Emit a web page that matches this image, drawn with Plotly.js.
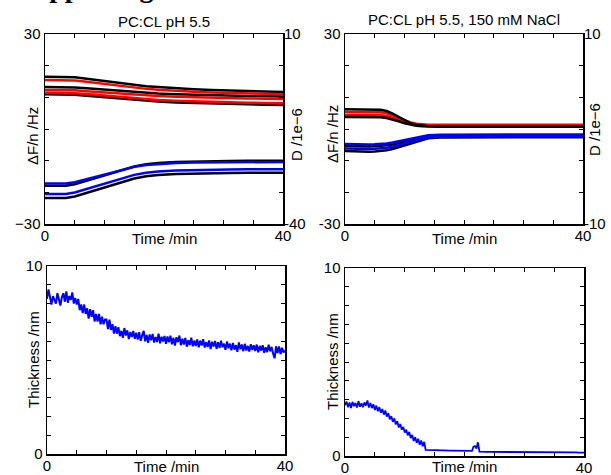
<!DOCTYPE html>
<html><head><meta charset="utf-8">
<script src="https://cdn.plot.ly/plotly-3.0.1.min.js"></script>
<style>html,body{margin:0;padding:0;background:#fff}#chart{width:611px;height:475px}</style>
</head><body><div id="chart"></div>
<script>
// ---------- Top-left panel: PC:CL pH 5.5 ----------
const timeTL = [0, 2, 3.5, 5, 7, 9, 11, 13, 15, 17, 19, 22, 25, 28, 31, 34, 37, 40];
// frequency shifts, Hz (left axis)
const freqFitA_TL  = [-17.2,-17.2,-17.2,-16.8,-15.84,-14.82,-13.8,-12.85,-11.96,-11.35,-11.01,-10.74,-10.6,-10.54,-10.47,-10.43,-10.4,-10.4];
const freqDataA_TL = [-17.9,-17.9,-17.9,-17.43,-16.32,-15.14,-13.95,-12.84,-11.82,-11.11,-10.71,-10.4,-10.24,-10.16,-10.08,-10.04,-10.0,-10.0];
const freqFitB_TL  = [-20.5,-20.5,-20.5,-20.03,-18.94,-17.77,-16.6,-15.51,-14.49,-13.79,-13.4,-13.09,-12.93,-12.86,-12.78,-12.74,-12.7,-12.7];
const freqDataB_TL = [-21.8,-21.8,-21.8,-21.32,-20.2,-19.0,-17.8,-16.68,-15.64,-14.92,-14.52,-14.2,-14.04,-13.96,-13.88,-13.84,-13.8,-13.8];
// dissipation, 1e-6 (right axis)
const dissDataA_TL = [-1.24,-1.24,-1.24,-1.40,-1.76,-2.16,-2.57,-2.97,-3.37,-3.73,-3.97,-4.30,-4.54,-4.74,-4.9,-5.02,-5.14,-5.26];
const dissFitA_TL  = [-2.1,-2.1,-2.1,-2.25,-2.59,-2.97,-3.34,-3.72,-4.1,-4.44,-4.66,-4.97,-5.19,-5.38,-5.53,-5.64,-5.76,-5.87];
const dissDataB_TL = [-3.95,-3.95,-3.95,-4.05,-4.28,-4.53,-4.78,-5.03,-5.28,-5.5,-5.65,-5.85,-6.0,-6.13,-6.23,-6.3,-6.38,-6.45];
const dissFitB_TL  = [-4.74,-4.74,-4.74,-4.83,-5.05,-5.28,-5.52,-5.75,-5.99,-6.2,-6.34,-6.53,-6.68,-6.79,-6.89,-6.96,-7.03,-7.1];
const dissFitC_TL  = [-5.45,-5.45,-5.45,-5.56,-5.81,-6.09,-6.37,-6.65,-6.93,-7.18,-7.35,-7.57,-7.74,-7.88,-7.99,-8.07,-8.16,-8.24];
const dissDataC_TL = [-5.87,-5.87,-5.87,-5.98,-6.24,-6.52,-6.8,-7.08,-7.36,-7.61,-7.78,-8.01,-8.17,-8.31,-8.43,-8.51,-8.6,-8.68];

// ---------- Top-right panel: PC:CL pH 5.5, 150 mM NaCl ----------
const timeTR = [0, 2, 4, 5, 6, 7, 8, 9, 10, 11, 12, 13, 14, 16, 20, 25, 30, 35, 40];
const freqFitA_TR  = [-4.74,-4.89,-4.89,-4.83,-4.74,-4.56,-4.29,-3.9,-3.48,-3.03,-2.58,-2.19,-1.95,-1.8,-1.74,-1.74,-1.74,-1.74,-1.74];
const freqDataA_TR = [-5.37,-5.54,-5.54,-5.47,-5.37,-5.17,-4.87,-4.44,-3.98,-3.48,-2.98,-2.55,-2.28,-2.12,-2.05,-2.05,-2.05,-2.05,-2.05];
const freqFitB_TR  = [-6.16,-6.35,-6.35,-6.27,-6.16,-5.93,-5.59,-5.1,-4.57,-4.0,-3.43,-2.94,-2.64,-2.45,-2.37,-2.37,-2.37,-2.37,-2.37];
const freqDataB_TR = [-6.95,-7.17,-7.17,-7.08,-6.95,-6.69,-6.3,-5.73,-5.12,-4.47,-3.82,-3.25,-2.9,-2.69,-2.6,-2.6,-2.6,-2.6,-2.6];
const dissDataA_TR = [2.07,2.07,2.07,2.07,2.03,1.89,1.63,1.27,0.92,0.62,0.44,0.35,0.3,0.3,0.3,0.3,0.3,0.3,0.3];
const dissFitA_TR  = [1.79,1.79,1.79,1.79,1.76,1.66,1.46,1.19,0.92,0.69,0.56,0.49,0.45,0.45,0.45,0.45,0.45,0.45,0.45];
const dissFitB_TR  = [1.47,1.47,1.47,1.47,1.45,1.36,1.2,0.98,0.76,0.58,0.47,0.41,0.38,0.38,0.38,0.38,0.38,0.38,0.38];
const dissDataB_TR = [1.26,1.26,1.26,1.26,1.24,1.16,1.01,0.81,0.6,0.43,0.33,0.28,0.25,0.25,0.25,0.25,0.25,0.25,0.25];

// ---------- Bottom panels: thickness (nm), sampled every 0.25 min from 0 to 40 ----------
const thicknessStart = 0;
const thicknessStep = 0.25;
const thicknessLeft = [
 8.25,8.75,8.35,7.95,8.40,8.15,8.00,8.55,8.25,7.90,8.35,8.55,8.10,8.65,8.05,8.40,8.20,8.60,8.00,8.30,
 7.95,8.25,7.65,7.95,7.50,7.95,7.45,7.75,7.20,7.70,7.30,7.65,7.05,7.45,7.05,7.45,6.90,7.30,6.90,7.15,
 7.15,6.65,7.15,6.60,6.90,6.40,6.80,6.40,6.75,6.27,6.55,6.18,6.70,6.30,6.58,6.11,6.49,6.22,6.55,6.13,
 6.45,6.09,6.48,6.02,6.31,6.55,5.99,6.33,5.92,6.36,6.05,6.39,5.93,6.22,5.96,6.40,5.89,6.24,5.98,6.28,
 5.86,6.25,5.95,6.29,5.83,6.18,5.77,6.21,5.95,6.30,5.79,6.13,5.82,6.17,5.71,6.05,5.80,6.19,5.73,6.03,
 5.75,6.09,5.68,6.03,5.77,6.11,5.66,5.95,5.69,6.04,5.58,5.97,5.72,6.01,5.60,5.95,5.64,6.03,5.68,5.87,
 5.54,5.98,5.63,5.87,5.51,5.91,5.55,5.79,5.44,5.93,5.58,5.82,5.47,5.86,5.51,5.75,5.45,5.84,5.54,5.78,
 5.48,5.82,5.41,5.75,5.50,5.79,5.38,5.68,5.42,5.81,5.46,5.70,5.34,5.09,5.73,5.37,5.72,5.31,5.65,5.40,
 5.50];
const thicknessRight = [
 2.70,2.90,2.60,2.85,2.55,2.88,2.65,2.82,2.58,2.92,2.62,2.80,2.60,2.85,2.68,2.95,2.58,2.82,2.55,2.75,
 2.45,2.68,2.38,2.60,2.30,2.50,2.20,2.42,2.10,2.28,1.95,2.12,1.82,2.00,1.68,1.85,1.52,1.70,1.40,1.55,
 1.25,1.40,1.10,1.28,0.95,1.12,0.80,1.00,0.70,0.92,0.60,0.82,0.52,0.75,
 0.33,0.32,0.32,0.32,0.31,0.31,0.31,0.31,0.30,0.30,0.30,0.30,0.30,0.29,0.29,0.29,0.29,0.29,0.29,0.28,
 0.28,0.28,0.28,0.28,0.28,0.28,0.27,0.27,0.27,0.27,0.27,0.27,
 0.50,0.53,0.40,0.73,
 0.23,0.22,0.22,0.22,0.22,0.22,0.22,0.22,0.22,0.22,0.22,
 0.21,0.21,0.21,0.21,0.21,0.21,0.21,0.21,0.21,0.21,0.21,0.21,0.21,0.21,0.21,0.21,0.21,0.21,0.21,0.21,
 0.20,0.20,0.20,0.20,0.20,0.20,0.20,0.20,0.20,0.20,0.20,0.20,0.20,0.20,0.20,0.20,0.20,0.20,0.20,0.20,
 0.19,0.19,0.19,0.19,0.19,0.19,0.19,0.19,0.19,0.19,0.19,0.19,0.19,0.19,0.19,
 0.18,0.18,0.18,0.18,0.18];

// ---------- Tick labels ----------
const timeTicks = [0,5,10,15,20,25,30,35,40];
const timeTickText = ['0','','','','','','','','40'];
const freqTicks = [-30,-20,-10,0,10,20,30];
const freqTickTextTL = ['\u221230','','','','','','30'];
const freqTickTextTR = ['-30','','','','','','30'];
const dissTicksTL = [-40,10];
const dissTickTextTL = ['-40','10'];
const dissTicksTR = [-10,10];
const dissTickTextTR = ['-10','10'];
const thickTicks = [0,1,2,3,4,5,6,7,8,9,10];
const thickTickText = ['0','','','','','','','','','','10'];

const BLUE = '#0000ff', RED = '#ff0000', BLACK = '#000000';
const W = 611, H = 475;
const FONT = 'Arial, "Liberation Sans", sans-serif';

function line(x, y, color, width, xa, ya) {
  return {x: x, y: y, type: 'scatter', mode: 'lines', line: {color: color, width: width},
          xaxis: xa, yaxis: ya, showlegend: false, hoverinfo: 'skip'};
}

const traces = [
  // top-left
  line(timeTL, freqDataA_TL, BLACK, 2.5, 'x', 'y'),
  line(timeTL, freqDataB_TL, BLACK, 2.5, 'x', 'y'),
  line(timeTL, freqFitA_TL, BLUE, 2.5, 'x', 'y'),
  line(timeTL, freqFitB_TL, BLUE, 2.5, 'x', 'y'),
  line(timeTL, dissDataA_TL, BLACK, 2.5, 'x', 'y2'),
  line(timeTL, dissDataB_TL, BLACK, 2.5, 'x', 'y2'),
  line(timeTL, dissDataC_TL, BLACK, 2.5, 'x', 'y2'),
  line(timeTL, dissFitA_TL, RED, 2.5, 'x', 'y2'),
  line(timeTL, dissFitB_TL, RED, 2.5, 'x', 'y2'),
  line(timeTL, dissFitC_TL, RED, 2.5, 'x', 'y2'),
  // top-right
  line(timeTR, freqDataA_TR, BLACK, 2.5, 'x2', 'y3'),
  line(timeTR, freqDataB_TR, BLACK, 2.5, 'x2', 'y3'),
  line(timeTR, freqFitA_TR, BLUE, 2.5, 'x2', 'y3'),
  line(timeTR, freqFitB_TR, BLUE, 2.5, 'x2', 'y3'),
  line(timeTR, dissFitA_TR, RED, 2.5, 'x2', 'y4'),
  line(timeTR, dissFitB_TR, RED, 2.5, 'x2', 'y4'),
  line(timeTR, dissDataA_TR, BLACK, 2.5, 'x2', 'y4'),
  line(timeTR, dissDataB_TR, BLACK, 2.5, 'x2', 'y4'),
  // bottom
  {y: thicknessLeft, x0: thicknessStart, dx: thicknessStep, type: 'scatter', mode: 'lines',
   line: {color: BLUE, width: 2}, xaxis: 'x3', yaxis: 'y5', showlegend: false, hoverinfo: 'skip'},
  {y: thicknessRight, x0: thicknessStart, dx: thicknessStep, type: 'scatter', mode: 'lines',
   line: {color: BLUE, width: 1.8}, xaxis: 'x4', yaxis: 'y6', showlegend: false, hoverinfo: 'skip'}
];

const tickFont = {family: FONT, size: 15, color: '#000'};
function xAxis(domain, anchor) {
  return {domain: domain, anchor: anchor, range: [0, 40], tickvals: timeTicks, ticktext: timeTickText,
          ticks: 'inside', ticklen: 4, tickwidth: 1, tickcolor: '#000', showline: true, linewidth: 1.5,
          linecolor: '#000', mirror: 'ticks', showgrid: false, zeroline: false, tickfont: tickFont,
          ticklabelstandoff: -3, fixedrange: true};
}
function yAxis(domain, anchor, range, vals, text) {
  return {domain: domain, anchor: anchor, range: range, tickvals: vals, ticktext: text,
          ticks: 'inside', ticklen: 4, tickwidth: 1, tickcolor: '#000', showline: true, linewidth: 1.5,
          linecolor: '#000', mirror: 'ticks', showgrid: false, zeroline: false, tickfont: tickFont,
          fixedrange: true};
}
function yRight(overlay, anchor, range, vals, text) {
  return {overlaying: overlay, anchor: anchor, side: 'right', range: range, tickvals: vals, ticktext: text,
          ticks: '', showline: false, showgrid: false, zeroline: false, tickfont: tickFont, fixedrange: true};
}
const px = v => v / W, py = v => 1 - v / H;

function ann(text, x, y, opts) {
  return Object.assign({text: text, x: px(x), y: py(y), xref: 'paper', yref: 'paper', showarrow: false,
    xanchor: 'center', yanchor: 'middle', font: {family: FONT, size: 15, color: '#000'}}, opts || {});
}

const layout = {
  width: W, height: H, margin: {l: 0, r: 0, t: 0, b: 0}, paper_bgcolor: '#fff', plot_bgcolor: '#fff',
  showlegend: false,
  xaxis:  xAxis([px(45), px(283)], 'y'),
  yaxis:  yAxis([py(224), py(34)], 'x', [-30, 30], freqTicks, freqTickTextTL),
  yaxis2: yRight('y', 'x', [-40, 10], dissTicksTL, dissTickTextTL),
  xaxis2: xAxis([px(345), px(583)], 'y3'),
  yaxis3: yAxis([py(224), py(34)], 'x2', [-30, 30], freqTicks, freqTickTextTR),
  yaxis4: yRight('y3', 'x2', [-10, 10], dissTicksTR, dissTickTextTR),
  xaxis3: xAxis([px(47), px(285)], 'y5'),
  yaxis5: yAxis([py(454), py(266)], 'x3', [0, 10], thickTicks, thickTickText),
  xaxis4: xAxis([px(345), px(584)], 'y6'),
  yaxis6: yAxis([py(456), py(268)], 'x4', [0, 10], thickTicks, thickTickText),
  annotations: [
    ann('<b>Supporting</b>', 16, 5, {xanchor: 'left', yanchor: 'bottom',
        font: {family: '"Liberation Serif", "Times New Roman", serif', size: 28, color: '#000'}}),
    ann('PC:CL pH 5.5', 164, 21),
    ann('PC:CL pH 5.5, 150 mM NaCl', 464, 19),
    ann('\u0394F/n /Hz', 32, 136, {textangle: -90}),
    ann('D /1e\u22126', 296, 135, {textangle: -90}),
    ann('Time /min', 164, 238),
    ann('\u0394F/n /Hz', 332, 134, {textangle: -90}),
    ann('D /1e\u22126', 595, 130, {textangle: -90}),
    ann('Time /min', 464, 238),
    ann('Thickness /nm', 33, 360, {textangle: -90}),
    ann('Time /min', 166, 466),
    ann('Thickness /nm', 332, 362, {textangle: -90}),
    ann('Time /min', 464, 466)
  ]
};

Plotly.newPlot('chart', traces, layout, {staticPlot: true, displayModeBar: false});
</script>
</body></html>
